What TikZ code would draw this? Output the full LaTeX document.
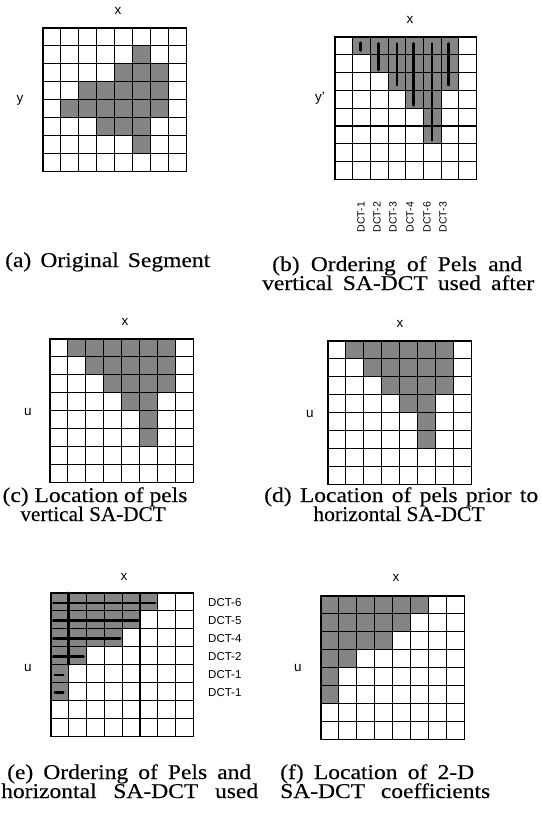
\documentclass[tikz,border=0pt]{standalone}
\usepackage{fontspec}
\usepackage{graphicx}
\setmainfont{Liberation Serif}
\setsansfont{Liberation Sans}
\newfontfamily\capfont[FakeStretch=1.12,FakeBold=0.25]{Liberation Serif}
\definecolor{cellshade}{gray}{0.52}
\tikzset{
  gridline/.style={line width=1.1pt, draw=black},
  shadecell/.style={fill=cellshade},
  orderline/.style={line width=2.8pt, draw=black, line cap=round},
  axislabel/.style={font=\sffamily\fontsize{13.5}{13.5}\selectfont, inner sep=0pt},
  dctlabel/.style={font=\sffamily\fontsize{11.5}{11.5}\selectfont, inner sep=0pt, anchor=west},
  dctvlabel/.style={font=\sffamily\fontsize{10.5}{10.5}\selectfont, inner sep=0pt, rotate=90},
  captext/.style={font=\capfont\fontsize{21}{21}\selectfont, inner sep=0pt, anchor=base west},
  captextc/.style={font=\capfont\fontsize{21}{21}\selectfont, inner sep=0pt, anchor=base},
}
\newcommand\cellgridlines{%
  \foreach \i in {1,...,7}{\draw[gridline] (\i,0) -- (\i,8); \draw[gridline] (0,\i) -- (8,\i);}
  \draw[gridline] (0,0) rectangle (8,8);}
\begin{document}
\begin{tikzpicture}[x=1pt,y=-1pt]
\useasboundingbox (0,0) rectangle (541,814);

% ---------- (a) original segment ----------
\begin{scope}[xshift=43pt, yshift=-28pt, x=17.9pt, y=-17.9pt]
  \foreach \c/\r in {5/1, 4/2,5/2,6/2, 2/3,3/3,4/3,5/3,6/3, 1/4,2/4,3/4,4/4,5/4,6/4, 3/5,4/5,5/5, 5/6}
    \fill[shadecell] (\c,\r) rectangle ++(1,1);
  \cellgridlines
\end{scope}
\node[axislabel] (ax) at (118,11) {x};
\node[axislabel] (ay) at (20,100) {y};
\node[captext] (capa) at (5,267) {\makebox[205pt][s]{(a) Original Segment}};

% ---------- (b) ordering, vertical ----------
\begin{scope}[xshift=335pt, yshift=-37pt, x=17.7pt, y=-17.8pt]
  \foreach \c/\r in {1/0, 2/0,2/1, 3/0,3/1,3/2, 4/0,4/1,4/2,4/3, 5/0,5/1,5/2,5/3,5/4,5/5, 6/0,6/1,6/2}
    \fill[shadecell] (\c,\r) rectangle ++(1,1);
  \cellgridlines
  \draw[orderline] (1.42,0.33) -- (1.42,0.75);
  \draw[orderline] (2.46,0.37) -- (2.46,1.85);
  \draw[orderline] (3.50,0.37) -- (3.50,2.70);
  \draw[orderline] (4.44,0.37) -- (4.44,3.83);
  \draw[orderline] (5.48,0.37) -- (5.48,5.80);
  \draw[orderline] (6.43,0.37) -- (6.43,2.70);
\end{scope}
\node[axislabel] (bx) at (410,20) {x};
\node[axislabel] (by) at (320,98) {y'};
\node[dctvlabel] (bd1) at (361,217) {DCT-1};
\node[dctvlabel] (bd2) at (377,217) {DCT-2};
\node[dctvlabel] (bd3) at (393,217) {DCT-3};
\node[dctvlabel] (bd4) at (410,217) {DCT-4};
\node[dctvlabel] (bd5) at (427,217) {DCT-6};
\node[dctvlabel] (bd6) at (443,217) {DCT-3};
\node[captext] (capb1) at (272,271) {\makebox[250pt][s]{(b) Ordering of Pels and}};
\node[captext] (capb2) at (262,290) {\makebox[272pt][s]{vertical SA-DCT used after}};

% ---------- (c) ----------
\begin{scope}[xshift=50pt, yshift=-339pt, x=17.9pt, y=-17.9pt]
  \foreach \c/\r in {1/0,2/0,3/0,4/0,5/0,6/0, 2/1,3/1,4/1,5/1,6/1, 3/2,4/2,5/2,6/2, 4/3,5/3, 5/4, 5/5}
    \fill[shadecell] (\c,\r) rectangle ++(1,1);
  \cellgridlines
\end{scope}
\node[axislabel] (cx) at (125,322) {x};
\node[axislabel] (cu) at (28,412) {u};
\node[captextc] (capc1) at (95,502) {(c) Location of pels};
\node[captextc] (capc2) at (93,521) {\scalebox{0.9}[1]{vertical SA-DCT}};

% ---------- (d) ----------
\begin{scope}[xshift=328pt, yshift=-341pt, x=17.9pt, y=-17.9pt]
  \foreach \c/\r in {1/0,2/0,3/0,4/0,5/0,6/0, 2/1,3/1,4/1,5/1,6/1, 3/2,4/2,5/2,6/2, 4/3,5/3, 5/4, 5/5}
    \fill[shadecell] (\c,\r) rectangle ++(1,1);
  \cellgridlines
\end{scope}
\node[axislabel] (dx) at (400,324) {x};
\node[axislabel] (du) at (310,414) {u};
\node[captext] (capd1) at (264,502) {\makebox[274pt][s]{(d) Location of pels prior to}};
\node[captextc] (capd2) at (399,521) {\scalebox{0.92}[1]{horizontal SA-DCT}};

% ---------- (e) ordering, horizontal ----------
\begin{scope}[xshift=51pt, yshift=-593pt, x=17.8pt, y=-17.9pt]
  \foreach \c/\r in {0/0,1/0,2/0,3/0,4/0,5/0, 0/1,1/1,2/1,3/1,4/1, 0/2,1/2,2/2,3/2, 0/3,1/3, 0/4, 0/5}
    \fill[shadecell] (\c,\r) rectangle ++(1,1);
  \cellgridlines
  \draw[orderline] (1,0) -- (1,4);
  \draw[orderline] (0.13,0.56) -- (5.84,0.56);
  \draw[orderline] (0.13,1.55) -- (4.90,1.55);
  \draw[orderline] (0.13,2.52) -- (3.88,2.52);
  \draw[orderline] (0.13,3.55) -- (1.82,3.55);
  \draw[orderline] (0.22,4.58) -- (0.69,4.58);
  \draw[orderline] (0.22,5.55) -- (0.69,5.55);
\end{scope}
\node[axislabel] (ex) at (124,577) {x};
\node[axislabel] (eu) at (28,668) {u};
\node[dctlabel] (ed1) at (208,603) {DCT-6};
\node[dctlabel] (ed2) at (208,621) {DCT-5};
\node[dctlabel] (ed3) at (208,639) {DCT-4};
\node[dctlabel] (ed4) at (208,657) {DCT-2};
\node[dctlabel] (ed5) at (208,675) {DCT-1};
\node[dctlabel] (ed6) at (208,693) {DCT-1};
\node[captext] (cape1) at (7,779) {\makebox[244pt][s]{(e) Ordering of Pels and}};
\node[captext] (cape2) at (1,798) {\makebox[257pt][s]{horizontal SA-DCT used}};

% ---------- (f) ----------
\begin{scope}[xshift=321pt, yshift=-596pt, x=17.9pt, y=-17.9pt]
  \foreach \c/\r in {0/0,1/0,2/0,3/0,4/0,5/0, 0/1,1/1,2/1,3/1,4/1, 0/2,1/2,2/2,3/2, 0/3,1/3, 0/4, 0/5}
    \fill[shadecell] (\c,\r) rectangle ++(1,1);
  \cellgridlines
\end{scope}
\node[axislabel] (fx) at (396,578) {x};
\node[axislabel] (fu) at (298,668) {u};
\node[captext] (capf1) at (280,779) {\makebox[194pt][s]{(f) Location of 2-D}};
\node[captext] (capf2) at (280,798) {\makebox[210pt][s]{SA-DCT coefficients}};
\end{tikzpicture}
\end{document}
